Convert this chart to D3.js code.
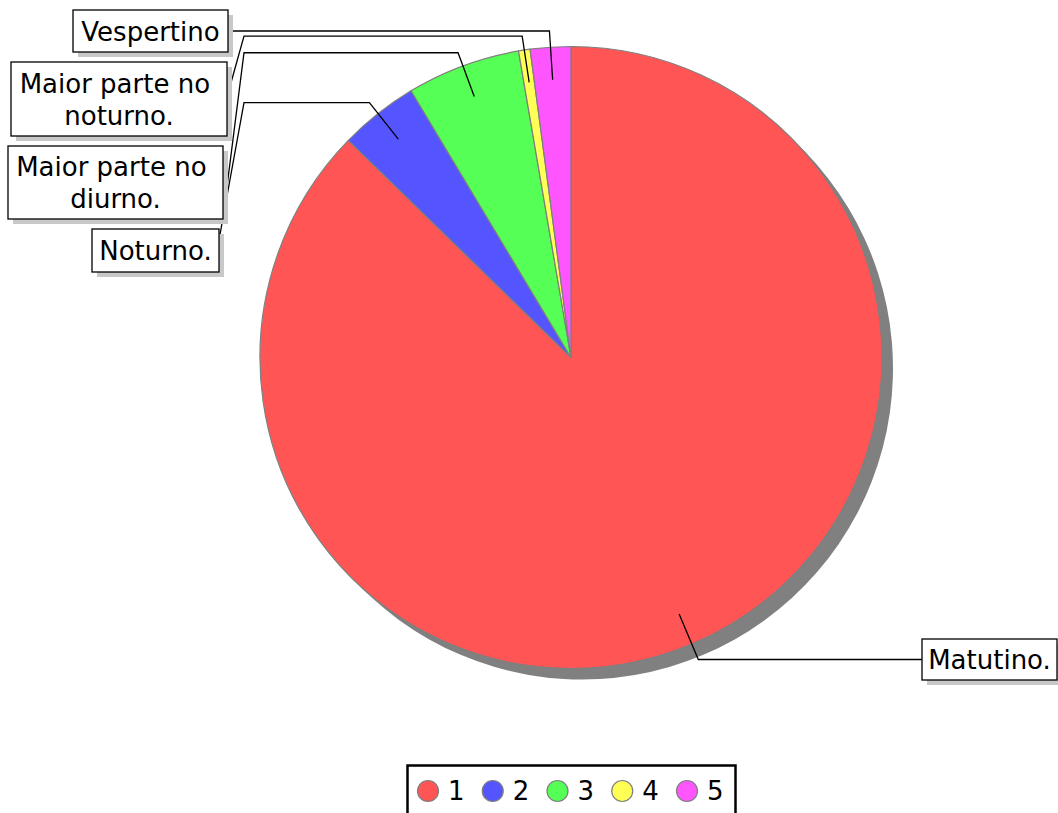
<!DOCTYPE html>
<html><head><meta charset="utf-8">
<script src="https://cdn.jsdelivr.net/npm/d3@7"></script>
<style>body{margin:0;background:#fff} svg{display:block}</style>
</head><body>
<script>
// ---- data ----
const categories = ["1", "2", "3", "4", "5"];
const values = [87.3, 4.1, 5.9, 0.6, 2.1];
const sliceLabels = [["Matutino."], ["Noturno."], ["Maior parte no ", "diurno."], ["Maior parte no ", "noturno."], ["Vespertino"]];
const colors = ["#ff5555", "#5555ff", "#55ff55", "#ffff55", "#ff55ff"];

// ---- layout ----
const W = 1058, H = 813;
const cx = 571, cy = 357.5, R = 311;
const font = "DejaVu Sans, Verdana, sans-serif";
const fs = 26;
// label boxes (layout only)
const boxes = [
  {x: 922, y: 639, w: 135, h: 41, side: "left", direct: true},
  {x: 92, y: 229, w: 127, h: 43, side: "right", attachDy: 11},
  {x: 8, y: 146, w: 215, h: 73, side: "right", attachDy: 72},
  {x: 11, y: 62, w: 216, h: 74, side: "right", attachDy: 35},
  {x: 73, y: 10, w: 155, h: 42, side: "right", direct: true}
];
const elbowX = 244;

const svg = d3.select("body").append("svg").attr("width", W).attr("height", H);

const pie = d3.pie().sort(null).value(d => d)(values);
const arc = d3.arc().innerRadius(0).outerRadius(R);

// shadow
svg.append("g").attr("transform", `translate(${cx + 11},${cy + 11})`)
  .selectAll("path").data(pie).join("path")
  .attr("d", arc).attr("fill", "#808080");

// slices
svg.append("g").attr("transform", `translate(${cx},${cy})`)
  .selectAll("path").data(pie).join("path")
  .attr("d", arc)
  .attr("fill", (d, i) => colors[i])
  .attr("stroke", "#7f7f7f").attr("stroke-width", 1.2).attr("stroke-linejoin", "round");

// leader lines
function polar(a, r) { return [cx + Math.sin(a) * r, cy - Math.cos(a) * r]; }
const lineG = svg.append("g");
pie.forEach((d, i) => {
  const b = boxes[i];
  const mid = (d.startAngle + d.endAngle) / 2;
  const p0 = polar(mid, R * 0.895);
  let pts;
  if (b.direct) {
    const yh = b.y + b.h / 2;
    // radial line meets horizontal at yh
    const t = (cy - yh) / Math.cos(mid);
    const p1 = polar(mid, t);
    const xEnd = b.side === "left" ? b.x : b.x + b.w;
    pts = [p0, p1, [xEnd, yh]];
  } else {
    const p1 = polar(mid, R * 1.045);
    pts = [p0, p1, [elbowX, p1[1]], [b.x + b.w, b.y + b.attachDy]];
  }
  lineG.append("path").attr("d", d3.line()(pts))
    .attr("fill", "none").attr("stroke", "#000").attr("stroke-width", 1.3);
});

// label boxes
const lab = svg.append("g");
boxes.forEach((b, i) => {
  lab.append("rect").attr("x", b.x + 5).attr("y", b.y + 5).attr("width", b.w).attr("height", b.h).attr("fill", "#c8c8c8");
  lab.append("rect").attr("x", b.x).attr("y", b.y).attr("width", b.w).attr("height", b.h)
    .attr("fill", "#fff").attr("stroke", "#000").attr("stroke-width", 1.3);
  const lines = sliceLabels[i];
  const n = lines.length;
  lines.forEach((t, j) => {
    lab.append("text").attr("x", b.x + b.w / 2)
      .attr("y", b.y + b.h / 2 + (j - (n - 1) / 2) * 32 + 9.5)
      .attr("text-anchor", "middle").style("white-space", "pre")
      .attr("font-family", font).attr("font-size", fs).attr("fill", "#000").text(t);
  });
});

// legend
const leg = svg.append("g");
leg.append("rect").attr("x", 407.5).attr("y", 765.5).attr("width", 328).attr("height", 70)
  .attr("fill", "#fff").attr("stroke", "#000").attr("stroke-width", 2.5);
const lx = d3.scalePoint().domain(categories).range([428, 687]);
categories.forEach((c, i) => {
  leg.append("circle").attr("cx", lx(c)).attr("cy", 791).attr("r", 10.5)
    .attr("fill", colors[i]).attr("stroke", "#7f7f7f").attr("stroke-width", 1.2);
  leg.append("text").attr("x", lx(c) + 20).attr("y", 800)
    .attr("font-family", font).attr("font-size", fs).attr("fill", "#000").text(c);
});
</script>
</body></html>
